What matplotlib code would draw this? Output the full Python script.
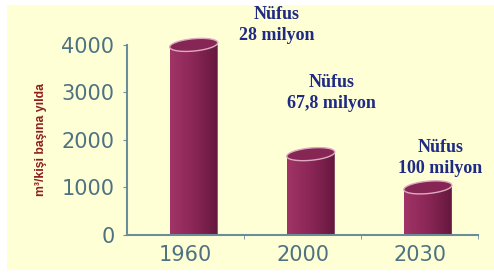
import numpy as np
import matplotlib.pyplot as plt
from matplotlib.patches import Rectangle, Polygon
from matplotlib.colors import LinearSegmentedColormap

# veri
years = ['1960', '2000', '2030']
water = [4000, 1700, 1000]          # m3 / kişi başına yılda
notes = ['Nüfus\n28 milyon', 'Nüfus\n67,8 milyon', 'Nüfus\n100 milyon']
note_x = [0.78, 1.25, 2.175]
note_y = [4420, 2990, 1620]

fig = plt.figure(figsize=(4.94, 2.77), dpi=100)
fig.patch.set_facecolor('white')
fig.patches.append(Rectangle((0.014, 0.025), 0.986, 0.957, transform=fig.transFigure,
                             facecolor='#FFFFD6', edgecolor='none', zorder=-10))

ax = fig.add_axes([0.257, 0.152, 0.711, 0.686])
ax.set_facecolor('none')
ax.set_xlim(-0.5, 2.5)
ax.set_ylim(0, 4000)

w = 0.41      # silindir genişliği
off = 0.07    # silindirler kategori ortasının biraz sağında
eh = 130      # elips yarı yüksekliği (veri birimi)
tilt = 45
t = np.linspace(0, 2 * np.pi, 100)
grad = np.linspace(0, 1, 64).reshape(1, -1)
cmap = LinearSegmentedColormap.from_list('cyl', ['#A03466', '#8A2656', '#64173D'])

for i, v in enumerate(water):
    cx = i + off
    x0, x1 = cx - w / 2, cx + w / 2
    # gövde: üst kenarı elipsin ön yarısı
    tb = np.linspace(np.pi, 2 * np.pi, 40)
    top_front = np.column_stack([cx + w / 2 * np.cos(tb),
                                 v + eh * np.sin(tb) + tilt * np.cos(tb)])
    body = np.vstack([[x0, 0], top_front, [x1, 0]])
    poly = Polygon(body, closed=True, facecolor='none', edgecolor='none')
    ax.add_patch(poly)
    im = ax.imshow(grad, cmap=cmap, aspect='auto', extent=[x0, x1, 0, v + eh + tilt],
                   zorder=2, interpolation='bilinear')
    im.set_clip_path(poly)
    # üst elips
    ell = np.column_stack([cx + w / 2 * np.cos(t), v + eh * np.sin(t) + tilt * np.cos(t)])
    ax.add_patch(Polygon(ell, closed=True, facecolor='#862654', edgecolor='#DDA8C0',
                         linewidth=1.0, zorder=3, clip_on=False))
    ax.text(note_x[i], note_y[i], notes[i], ha='center', va='center',
            fontsize=13, fontweight='bold', family='Liberation Serif',
            color='#1E2A84', linespacing=1.3, clip_on=False)

axis_col = '#6A8D9C'
lab_col = '#4E7282'
for s in ['top', 'right']:
    ax.spines[s].set_visible(False)
for s in ['left', 'bottom']:
    ax.spines[s].set_color(axis_col)
    ax.spines[s].set_linewidth(1.5)

ax.set_yticks([0, 1000, 2000, 3000, 4000])
ax.set_xticks(range(len(years)))
ax.set_xticklabels(years)
ax.set_xticks([0.5, 1.5, 2.5], minor=True)
ax.tick_params(axis='x', which='major', length=0, pad=7)
ax.tick_params(axis='x', which='minor', length=3, color=axis_col, direction='out')
ax.tick_params(axis='y', length=3, color=axis_col, direction='out', pad=6)
for lab in ax.get_xticklabels() + ax.get_yticklabels():
    lab.set_family('DejaVu Sans')
    lab.set_fontsize(15)
    lab.set_color(lab_col)

fig.text(0.083, 0.495, 'm³/kişi başına yılda', rotation=90, ha='center', va='center',
         fontsize=8.8, fontweight='bold', color='#8E1F1F', family='Liberation Sans')

fig.savefig('out.png', dpi=100)
